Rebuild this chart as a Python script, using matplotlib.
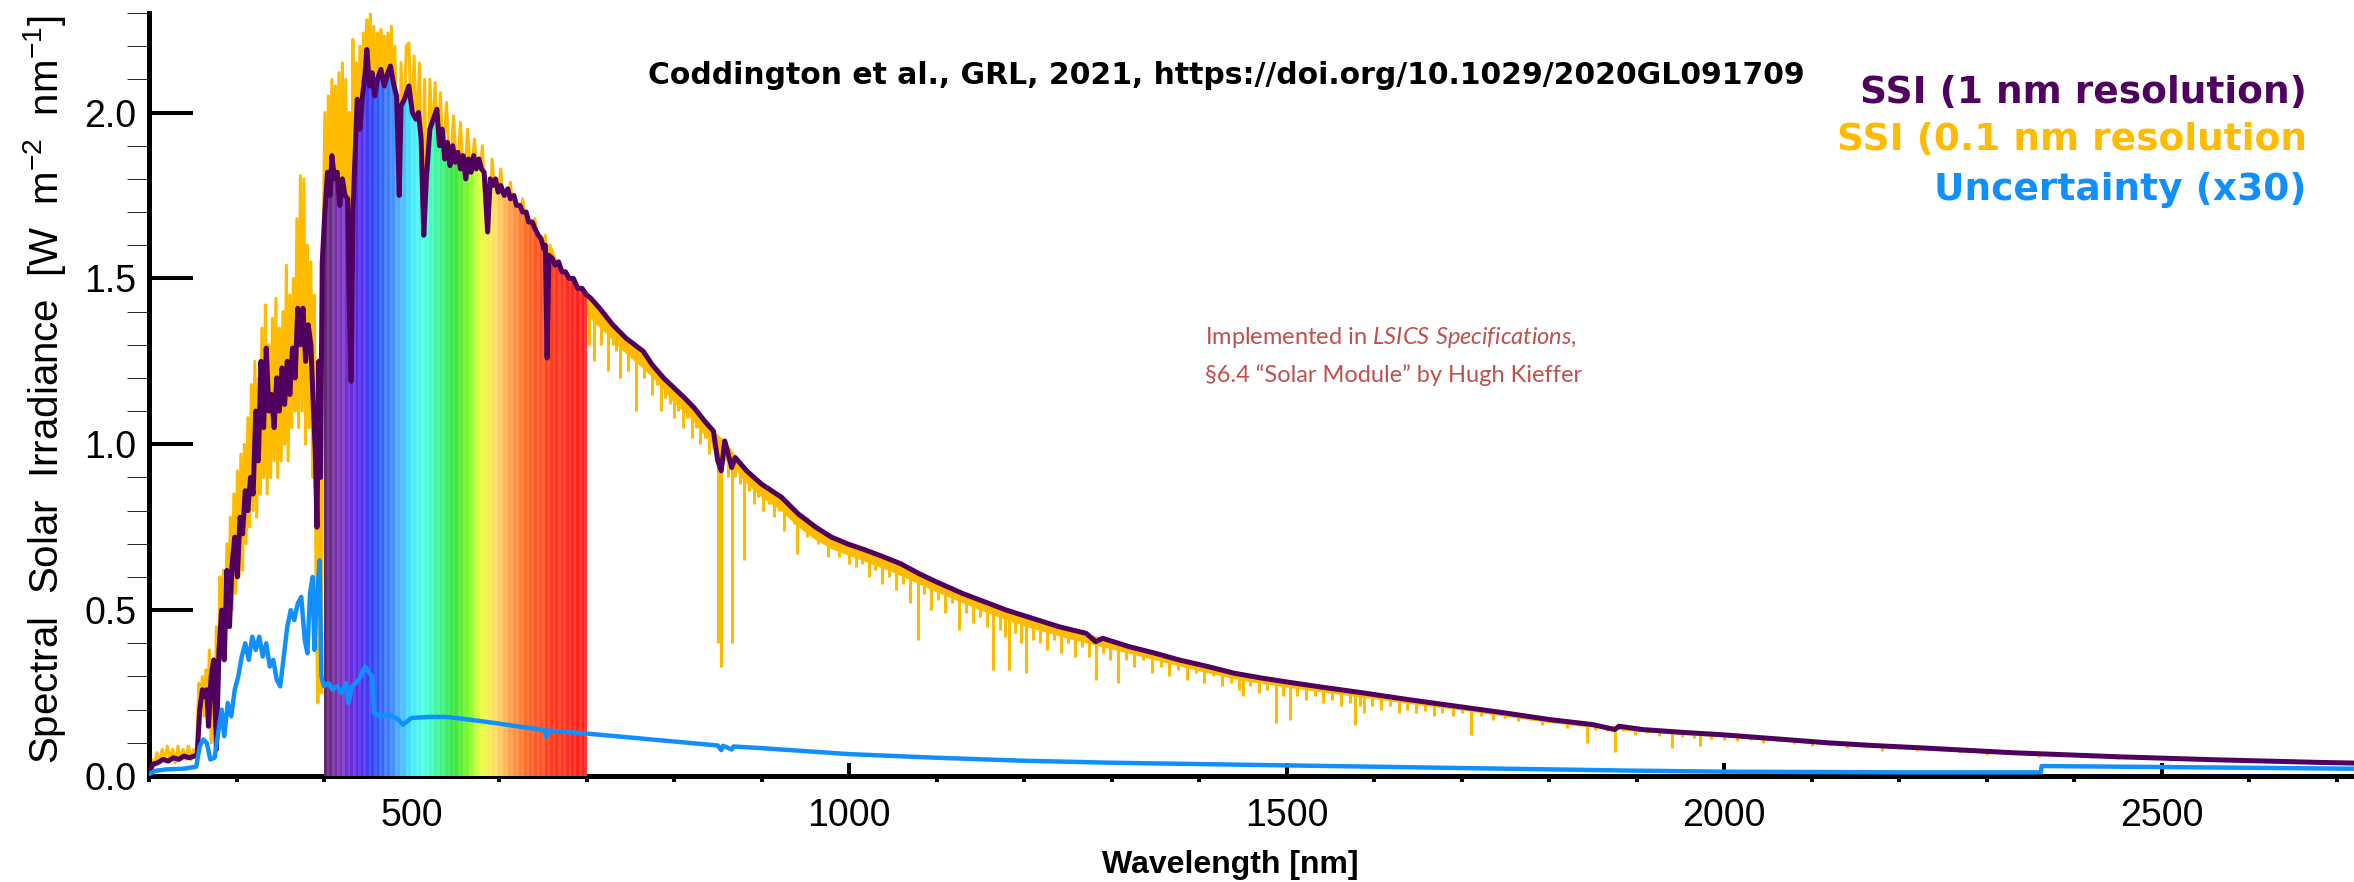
import numpy as np
import matplotlib
matplotlib.use('Agg')
import matplotlib.pyplot as plt
from matplotlib.colors import LinearSegmentedColormap
from matplotlib.ticker import MultipleLocator, FormatStrFormatter

# SSI at 1 nm resolution (wavelength nm, W m-2 nm-1)
ssi_1nm = [
    (200, 0.005), (204, 0.035), (210, 0.04), (216, 0.05), (222, 0.045), (228, 0.055),
    (234, 0.05), (240, 0.06), (246, 0.055), (252, 0.06), (255, 0.06), (258, 0.2),
    (261, 0.26), (264, 0.24), (266, 0.26), (268, 0.15), (271, 0.3), (274, 0.35),
    (277, 0.08), (280, 0.38), (283, 0.5), (286, 0.35), (289, 0.62), (292, 0.45),
    (295, 0.64), (298, 0.72), (301, 0.6), (304, 0.78), (307, 0.73), (310, 0.86),
    (313, 0.8), (316, 0.9), (319, 0.85), (322, 1.1), (325, 0.95), (328, 1.25),
    (331, 1.05), (334, 1.29), (337, 1.1), (340, 1.15), (343, 1.05), (346, 1.2),
    (349, 1.1), (352, 1.23), (355, 1.12), (358, 1.25), (361, 1.15), (364, 1.29),
    (367, 1.2), (370, 1.41), (373, 1.3), (376, 1.41), (379, 1.25), (382, 1.36),
    (385, 1.3), (388, 1.1), (390, 0.98), (392, 0.75), (394, 1.25), (396, 0.9),
    (398, 1.55), (401, 1.7), (404, 1.82), (407, 1.75), (409, 1.87), (412, 1.8),
    (415, 1.82), (418, 1.72), (421, 1.8), (424, 1.75), (427, 1.74), (429, 1.4),
    (431, 1.19), (433, 1.7), (436, 1.9), (438, 2.04), (441, 1.95), (444, 2.05),
    (447, 2.12), (449, 2.19), (452, 2.08), (455, 2.12), (458, 2.05), (461, 2.1),
    (465, 2.13), (469, 2.08), (473, 2.12), (476, 2.14), (480, 2.08), (483, 2.05),
    (486, 1.75), (488, 2.02), (492, 2.04), (497, 2.08), (501, 2.0), (505, 1.98),
    (508, 2.0), (511, 1.92), (514, 1.63), (517, 1.8), (521, 1.95), (525, 1.98),
    (529, 2.01), (532, 1.9), (535, 1.95), (538, 1.86), (541, 1.91), (544, 1.84),
    (547, 1.9), (550, 1.85), (553, 1.88), (556, 1.83), (559, 1.87), (562, 1.8),
    (565, 1.86), (568, 1.82), (571, 1.87), (574, 1.83), (577, 1.86), (580, 1.83),
    (583, 1.82), (587, 1.64), (590, 1.8), (593, 1.78), (596, 1.8), (599, 1.76),
    (602, 1.78), (606, 1.75), (610, 1.77), (613, 1.74), (617, 1.75), (620, 1.72),
    (624, 1.72), (627, 1.7), (631, 1.7), (634, 1.67), (638, 1.67), (641, 1.65),
    (645, 1.63), (648, 1.62), (651, 1.59), (653, 1.6), (655, 1.26), (657, 1.57),
    (661, 1.56), (664, 1.54), (668, 1.55), (672, 1.52), (676, 1.52), (680, 1.5),
    (685, 1.5), (690, 1.47), (695, 1.47), (700, 1.45), (705, 1.44), (715, 1.41),
    (730, 1.36), (745, 1.32), (765, 1.28), (775, 1.24), (788, 1.2), (800, 1.17),
    (812, 1.14), (823, 1.11), (835, 1.07), (845, 1.04), (850, 0.95), (854, 0.92),
    (858, 1.01), (866, 0.93), (870, 0.96), (883, 0.92), (900, 0.88), (923, 0.84),
    (942, 0.79), (962, 0.75), (980, 0.72), (998, 0.70), (1020, 0.68), (1040, 0.66),
    (1059, 0.64), (1080, 0.61), (1100, 0.585), (1130, 0.55), (1150, 0.53), (1180, 0.5),
    (1210, 0.475), (1240, 0.45), (1271, 0.43), (1282, 0.405), (1290, 0.415), (1320, 0.39),
    (1350, 0.37), (1377, 0.35), (1410, 0.33), (1440, 0.31), (1470, 0.296), (1499, 0.284),
    (1540, 0.268), (1589, 0.25), (1640, 0.23), (1695, 0.21), (1750, 0.19), (1801, 0.17),
    (1850, 0.155), (1875, 0.14), (1880, 0.15), (1907, 0.14), (1950, 0.132), (2000, 0.124),
    (2060, 0.112), (2119, 0.10), (2170, 0.092), (2224, 0.085), (2280, 0.077), (2331, 0.07),
    (2400, 0.063), (2450, 0.058), (2500, 0.054), (2560, 0.049), (2620, 0.045), (2680, 0.041),
    (2720, 0.039),
]

# SSI at 0.1 nm resolution, UV / visible part (very spiky)
ssi_01nm = [
    (200, 0.0), (203, 0.05), (206, 0.03), (209, 0.07), (212, 0.04), (215, 0.08),
    (218, 0.05), (221, 0.09), (224, 0.05), (227, 0.08), (230, 0.04), (233, 0.09),
    (236, 0.05), (239, 0.08), (242, 0.05), (245, 0.09), (248, 0.05), (251, 0.08),
    (254, 0.06), (257, 0.28), (259, 0.2), (261, 0.3), (263, 0.18), (265, 0.32),
    (267, 0.2), (269, 0.38), (271, 0.1), (273, 0.35), (275, 0.15), (277, 0.45),
    (279, 0.12), (281, 0.6), (283, 0.35), (285, 0.62), (287, 0.4), (289, 0.7),
    (291, 0.45), (293, 0.78), (295, 0.5), (297, 0.85), (299, 0.55), (301, 0.92),
    (303, 0.6), (305, 0.97), (307, 0.62), (309, 1.0), (311, 0.7), (313, 1.08),
    (315, 0.75), (317, 1.18), (319, 0.8), (321, 1.25), (323, 0.78), (325, 1.2),
    (327, 0.85), (329, 1.35), (331, 0.9), (333, 1.42), (335, 0.85), (337, 1.3),
    (339, 0.9), (341, 1.38), (343, 0.95), (345, 1.44), (347, 0.9), (349, 1.35),
    (351, 0.95), (353, 1.4), (355, 1.0), (357, 1.54), (359, 0.95), (361, 1.45),
    (363, 1.05), (365, 1.5), (367, 1.1), (369, 1.68), (371, 1.05), (373, 1.81),
    (375, 1.1), (377, 1.8), (379, 1.0), (381, 1.6), (383, 1.05), (385, 1.55),
    (387, 0.9), (389, 1.45), (391, 0.5), (393, 0.22), (395, 1.2), (397, 0.25),
    (399, 1.6), (401, 2.0), (403, 1.5), (405, 2.05), (407, 1.6), (409, 2.1),
    (411, 1.7), (413, 2.08), (415, 1.6), (417, 2.12), (419, 1.7), (421, 2.15),
    (423, 1.6), (425, 2.1), (427, 1.5), (429, 2.0), (431, 1.3), (433, 2.22),
    (435, 1.7), (437, 2.15), (439, 1.8), (441, 2.2), (443, 1.8), (445, 2.24),
    (447, 1.9), (449, 2.28), (451, 2.0), (453, 2.3), (455, 1.95), (457, 2.26),
    (459, 1.9), (461, 2.24), (463, 2.0), (465, 2.25), (467, 1.9), (469, 2.23),
    (471, 2.0), (473, 2.24), (475, 2.0), (477, 2.26), (479, 1.95), (481, 2.2),
    (484, 1.8), (486, 1.4), (488, 2.15), (491, 1.9), (494, 2.2), (497, 2.21),
    (500, 1.95), (503, 2.17), (506, 1.9), (509, 2.15), (512, 1.7), (515, 2.1),
    (518, 1.5), (521, 2.1), (524, 1.9), (527, 2.09), (530, 1.8), (533, 2.06),
    (536, 1.85), (540, 2.03), (544, 1.8), (548, 1.99), (552, 1.8), (556, 1.97),
    (560, 1.75), (564, 1.95), (568, 1.8), (572, 1.92), (577, 1.75), (581, 1.9),
    (586, 1.6), (589, 1.5), (592, 1.86), (597, 1.7), (602, 1.83), (607, 1.65),
    (613, 1.79), (620, 1.6), (627, 1.74), (634, 1.6), (641, 1.68), (648, 1.55),
    (653, 1.63), (656, 1.1), (658, 1.6), (664, 1.56), (670, 1.5), (676, 1.52),
    (684, 1.45), (692, 1.47), (700, 1.45),
]

# 0.1 nm spectrum beyond 700 nm: dense band just under the 1 nm curve (nm, bottom, top)
band_01nm = [
    (700, 1.39, 1.455), (720, 1.34, 1.395), (740, 1.285, 1.335), (760, 1.24, 1.29),
    (780, 1.19, 1.235), (800, 1.125, 1.175), (820, 1.075, 1.12), (840, 1.01, 1.055),
    (860, 0.96, 1.005), (880, 0.89, 0.93), (900, 0.84, 0.885), (920, 0.805, 0.845),
    (940, 0.755, 0.795), (960, 0.715, 0.755), (980, 0.685, 0.725), (1000, 0.665, 0.705),
    (1050, 0.615, 0.652), (1100, 0.555, 0.59), (1150, 0.50, 0.535), (1200, 0.452, 0.485),
    (1250, 0.415, 0.445), (1300, 0.383, 0.41), (1350, 0.35, 0.373), (1400, 0.317, 0.338),
    (1450, 0.288, 0.307), (1500, 0.268, 0.287), (1550, 0.25, 0.267), (1600, 0.233, 0.248),
    (1650, 0.215, 0.229), (1700, 0.199, 0.212), (1750, 0.18, 0.193), (1800, 0.161, 0.173),
    (1850, 0.147, 0.158), (1900, 0.135, 0.145), (1950, 0.125, 0.135), (2000, 0.118, 0.127),
    (2100, 0.098, 0.106), (2200, 0.083, 0.09), (2300, 0.069, 0.076), (2400, 0.059, 0.065),
    (2500, 0.05, 0.056), (2600, 0.043, 0.048), (2720, 0.036, 0.041),
]

# narrow absorption lines of the 0.1 nm spectrum beyond 700 nm: (nm, bottom, top)
lines_01nm = [
    (703, 1.30, 1.45), (708, 1.25, 1.43), (712, 1.36, 1.42), (716, 1.30, 1.41), (721, 1.35, 1.40),
    (725, 1.22, 1.38), (730, 1.30, 1.37), (734, 1.28, 1.36), (738, 1.20, 1.34), (743, 1.30, 1.33),
    (747, 1.22, 1.32), (752, 1.26, 1.31), (756, 1.10, 1.30), (761, 1.24, 1.29), (766, 1.20, 1.28),
    (770, 1.23, 1.26), (775, 1.15, 1.24), (780, 1.18, 1.22), (785, 1.10, 1.21), (790, 1.14, 1.20),
    (795, 1.12, 1.18), (800, 1.08, 1.17), (805, 1.10, 1.16), (810, 1.05, 1.15), (815, 1.08, 1.13),
    (820, 1.02, 1.12), (825, 1.05, 1.10), (830, 1.00, 1.09), (835, 1.02, 1.07), (840, 0.97, 1.05),
    (845, 0.99, 1.04), (850, 0.40, 1.02), (854, 0.33, 1.01), (858, 0.95, 1.00), (862, 0.90, 0.99),
    (866, 0.40, 0.97), (870, 0.90, 0.96), (875, 0.88, 0.94), (880, 0.65, 0.93), (886, 0.86, 0.92),
    (891, 0.82, 0.90), (896, 0.84, 0.89), (902, 0.80, 0.88), (908, 0.82, 0.87), (914, 0.78, 0.86),
    (920, 0.80, 0.845), (926, 0.74, 0.83), (932, 0.78, 0.82), (937, 0.76, 0.81), (940, 0.67, 0.80),
    (946, 0.75, 0.79), (952, 0.72, 0.78), (958, 0.73, 0.765), (964, 0.70, 0.75), (970, 0.71, 0.74),
    (976, 0.66, 0.73), (982, 0.69, 0.72), (988, 0.66, 0.715), (994, 0.68, 0.705), (1000, 0.64, 0.70),
    (1008, 0.63, 0.69), (1015, 0.64, 0.685), (1023, 0.60, 0.675), (1030, 0.62, 0.67), (1038, 0.58, 0.66),
    (1046, 0.60, 0.655), (1054, 0.56, 0.645), (1062, 0.58, 0.64), (1070, 0.52, 0.625), (1079, 0.41, 0.615),
    (1086, 0.55, 0.60), (1094, 0.50, 0.59), (1102, 0.53, 0.585), (1110, 0.49, 0.575), (1118, 0.52, 0.565),
    (1126, 0.44, 0.555), (1134, 0.49, 0.545), (1142, 0.46, 0.54), (1150, 0.48, 0.53), (1158, 0.45, 0.52),
    (1165, 0.32, 0.515), (1172, 0.44, 0.505), (1178, 0.42, 0.50), (1183, 0.32, 0.495), (1190, 0.43, 0.49),
    (1197, 0.40, 0.485), (1202, 0.31, 0.48), (1210, 0.41, 0.475), (1218, 0.40, 0.47), (1226, 0.38, 0.46),
    (1234, 0.41, 0.455), (1242, 0.37, 0.45), (1250, 0.40, 0.445), (1258, 0.36, 0.44), (1266, 0.39, 0.432),
    (1274, 0.36, 0.427), (1282, 0.29, 0.42), (1290, 0.37, 0.413), (1298, 0.35, 0.407), (1307, 0.28, 0.40),
    (1316, 0.35, 0.395), (1326, 0.33, 0.387), (1336, 0.35, 0.38), (1346, 0.31, 0.373), (1356, 0.33, 0.366),
    (1366, 0.30, 0.36), (1376, 0.32, 0.352), (1386, 0.29, 0.345), (1396, 0.31, 0.338), (1406, 0.28, 0.332),
    (1416, 0.30, 0.325), (1426, 0.27, 0.32), (1436, 0.28, 0.313), (1446, 0.26, 0.307), (1450, 0.24, 0.305),
    (1458, 0.27, 0.30), (1468, 0.25, 0.296), (1478, 0.26, 0.292), (1488, 0.16, 0.288), (1496, 0.24, 0.285),
    (1504, 0.17, 0.282), (1512, 0.24, 0.279), (1522, 0.23, 0.275), (1532, 0.24, 0.271), (1542, 0.22, 0.267),
    (1552, 0.23, 0.264), (1562, 0.21, 0.26), (1572, 0.22, 0.256), (1578, 0.155, 0.254), (1584, 0.21, 0.252),
    (1589, 0.19, 0.25), (1598, 0.21, 0.247), (1608, 0.20, 0.243), (1618, 0.21, 0.24), (1628, 0.19, 0.236),
    (1638, 0.20, 0.232), (1648, 0.19, 0.228), (1658, 0.195, 0.225), (1668, 0.18, 0.221), (1678, 0.19, 0.218),
    (1690, 0.18, 0.213), (1700, 0.19, 0.21), (1711, 0.124, 0.207), (1722, 0.18, 0.203), (1736, 0.17, 0.198),
    (1750, 0.175, 0.192), (1764, 0.165, 0.187), (1778, 0.17, 0.181), (1792, 0.155, 0.175), (1806, 0.16, 0.17),
    (1820, 0.145, 0.165), (1834, 0.15, 0.16), (1843, 0.10, 0.158), (1852, 0.14, 0.155), (1866, 0.135, 0.151),
    (1875, 0.073, 0.148), (1884, 0.135, 0.146), (1898, 0.125, 0.142), (1912, 0.13, 0.139), (1926, 0.12, 0.136),
    (1940, 0.085, 0.134), (1952, 0.118, 0.131), (1966, 0.115, 0.128), (1972, 0.09, 0.127), (1985, 0.112, 0.126),
    (2000, 0.11, 0.124), (2015, 0.105, 0.121), (2030, 0.108, 0.118), (2045, 0.098, 0.115), (2060, 0.104, 0.112),
    (2080, 0.095, 0.108), (2100, 0.09, 0.104), (2120, 0.092, 0.10), (2140, 0.085, 0.097), (2160, 0.088, 0.094),
    (2180, 0.075, 0.091), (2200, 0.082, 0.088), (2220, 0.075, 0.085), (2245, 0.078, 0.082), (2270, 0.068, 0.079),
    (2300, 0.062, 0.074), (2330, 0.066, 0.07), (2360, 0.058, 0.068), (2390, 0.06, 0.065), (2420, 0.055, 0.061),
    (2450, 0.052, 0.058), (2480, 0.05, 0.056), (2510, 0.044, 0.053), (2540, 0.048, 0.051), (2570, 0.045, 0.048),
    (2600, 0.044, 0.046), (2640, 0.038, 0.044), (2680, 0.039, 0.041), (2710, 0.036, 0.039),
]

# uncertainty x30
unc_x30 = [
    (200, 0.005), (206, 0.015), (220, 0.02), (240, 0.022), (254, 0.028), (258, 0.09),
    (262, 0.11), (266, 0.1), (270, 0.05), (275, 0.055), (279, 0.13), (283, 0.2),
    (286, 0.12), (290, 0.22), (294, 0.18), (298, 0.26), (302, 0.3), (306, 0.36),
    (310, 0.4), (314, 0.35), (318, 0.42), (322, 0.38), (326, 0.42), (330, 0.36),
    (334, 0.4), (338, 0.33), (342, 0.35), (346, 0.29), (350, 0.27), (354, 0.36),
    (358, 0.45), (362, 0.5), (366, 0.47), (370, 0.52), (374, 0.54), (378, 0.41),
    (381, 0.37), (384, 0.55), (387, 0.6), (389, 0.38), (391, 0.5), (395, 0.65),
    (397, 0.3), (400, 0.27), (405, 0.28), (410, 0.26), (415, 0.27), (420, 0.25),
    (425, 0.28), (428, 0.22), (432, 0.27), (440, 0.29), (447, 0.33), (452, 0.31),
    (455, 0.3), (457, 0.19), (465, 0.18), (475, 0.185), (485, 0.17), (490, 0.155),
    (500, 0.175), (520, 0.178), (540, 0.178), (560, 0.172), (580, 0.165), (600, 0.158),
    (620, 0.15), (640, 0.143), (652, 0.138), (654, 0.118), (656, 0.137), (680, 0.132),
    (700, 0.128), (750, 0.116), (800, 0.104), (850, 0.092), (854, 0.078), (856, 0.091),
    (866, 0.08), (868, 0.089), (900, 0.084), (950, 0.075), (1000, 0.066), (1100, 0.055),
    (1200, 0.046), (1300, 0.04), (1400, 0.036), (1500, 0.032), (1600, 0.028), (1700, 0.024),
    (1800, 0.02), (1900, 0.016), (2000, 0.013), (2100, 0.012), (2200, 0.011), (2362, 0.011),
    (2363, 0.03), (2500, 0.027), (2720, 0.022),
]

# colour stops of the visible band
rainbow_nm = [400, 420, 440, 460, 480, 500, 515, 530, 550, 565, 580, 595, 610, 630, 660, 700]
rainbow_rgb = [
    (100, 40, 110), (125, 50, 195), (85, 40, 240), (40, 80, 255), (70, 150, 255),
    (70, 235, 255), (80, 255, 225), (60, 245, 150), (60, 230, 60), (130, 250, 40),
    (235, 255, 60), (255, 220, 100), (255, 170, 80), (255, 110, 40), (255, 60, 30),
    (255, 30, 30),
]

legend_labels = ['SSI (1 nm resolution)', 'SSI (0.1 nm resolution', 'Uncertainty (x30)']
citation = 'Coddington et al., GRL, 2021, https://doi.org/10.1029/2020GL091709'

purple = '#50005f'
orange = '#ffbb00'
blue = '#1090ff'
red_note = '#c0504d'

plt.rcParams['mathtext.fontset'] = 'custom'
plt.rcParams['mathtext.it'] = 'Lato:italic'
plt.rcParams['mathtext.rm'] = 'Liberation Sans'
plt.rcParams['mathtext.default'] = 'regular'

W, H = 2354, 882
fig = plt.figure(figsize=(W / 100, H / 100), dpi=100)
ax = fig.add_axes([149 / W, 106 / H, (W - 149) / W, 763 / H])

wl_hr, v_hr = np.array(ssi_01nm).T
bd_wl, bd_lo, bd_hi = np.array(band_01nm).T
ln_wl, ln_lo, ln_hi = np.array(lines_01nm).T
wl1, v1 = np.array(ssi_1nm).T
wlu, vu = np.array(unc_x30).T

ax.plot(wl_hr, v_hr, color=orange, lw=2.2, zorder=2)
ax.fill_between(bd_wl, bd_lo, bd_hi, color=orange, lw=0, zorder=2)
ax.vlines(ln_wl, ln_lo, ln_hi, color=orange, lw=2.2, zorder=2)

# rainbow under the 1 nm curve between 400 and 700 nm
cmap = LinearSegmentedColormap.from_list(
    'vis', [((w - 400) / 300, tuple(c / 255 for c in rgb)) for w, rgb in zip(rainbow_nm, rainbow_rgb)])
cols = np.arange(400, 700) + 0.5
img = cmap((cols - 400) / 300)
stripe = ((cols - 400) // 3) % 2 == 1
img[stripe, :3] = img[stripe, :3] * 0.88 + 0.12
img = img[np.newaxis, :, :]
under = ax.fill_between(wl1, v1, 0, color='none', lw=0)
im = ax.imshow(img, extent=[400, 700, 0, 2.3], aspect='auto', interpolation='nearest', zorder=3)
im.set_clip_path(under.get_paths()[0], transform=ax.transData)

ax.plot(wl1, v1, color=purple, lw=3.6, zorder=4)
ax.plot(wlu, vu, color=blue, lw=3.2, zorder=5)

ax.set_xlim(200, 2720)
ax.set_ylim(0, 2.3)
ax.xaxis.set_major_locator(MultipleLocator(500))
ax.xaxis.set_minor_locator(MultipleLocator(100))
ax.yaxis.set_major_locator(MultipleLocator(0.5))
ax.yaxis.set_minor_locator(MultipleLocator(0.1))
ax.yaxis.set_major_formatter(FormatStrFormatter('%.1f'))
for s in ['top', 'right']:
    ax.spines[s].set_visible(False)
for s in ['left', 'bottom']:
    ax.spines[s].set_linewidth(3.6)
ax.tick_params(direction='in', width=2.9, labelsize=27)
ax.tick_params(axis='y', which='major', length=31.7, pad=9)
ax.tick_params(axis='y', which='minor', length=15.8)
ax.tick_params(axis='x', which='major', length=9.4, pad=16)
ax.tick_params(axis='x', which='minor', length=4.5, width=2.9)
for lab in ax.get_xticklabels() + ax.get_yticklabels():
    lab.set_family('Liberation Sans')

fig.text(45 / W, 1 - 390 / H, 'Spectral  Solar  Irradiance  [W  m$^{-2}$  nm$^{-1}$]',
         rotation=90, ha='center', va='center', fontsize=29, family='Liberation Sans')
fig.text(1230 / W, 1 - 865 / H, 'Wavelength [nm]', ha='center', va='center',
         fontsize=23, family='Liberation Sans', weight='bold')

fig.text(1226 / W, 1 - 75 / H, citation, ha='center', va='center',
         fontsize=21.5, family='DejaVu Sans', weight='bold', color='black')
for lab, c, y in zip(legend_labels, [purple, orange, blue], [93, 140, 190]):
    fig.text(2307 / W, 1 - y / H, lab, ha='right', va='center', fontsize=27,
             family='DejaVu Sans', weight='bold', color=c)

fig.text(1205 / W, 1 - 337 / H, r'Implemented in $\mathit{LSICS\ Specifications}$,',
         ha='left', va='center', fontsize=17, family='Lato', color=red_note)
fig.text(1205 / W, 1 - 375 / H, '§6.4 \u201cSolar Module\u201d by Hugh Kieffer',
         ha='left', va='center', fontsize=17, family='Lato', color=red_note)

fig.savefig('out.png', dpi=100)
